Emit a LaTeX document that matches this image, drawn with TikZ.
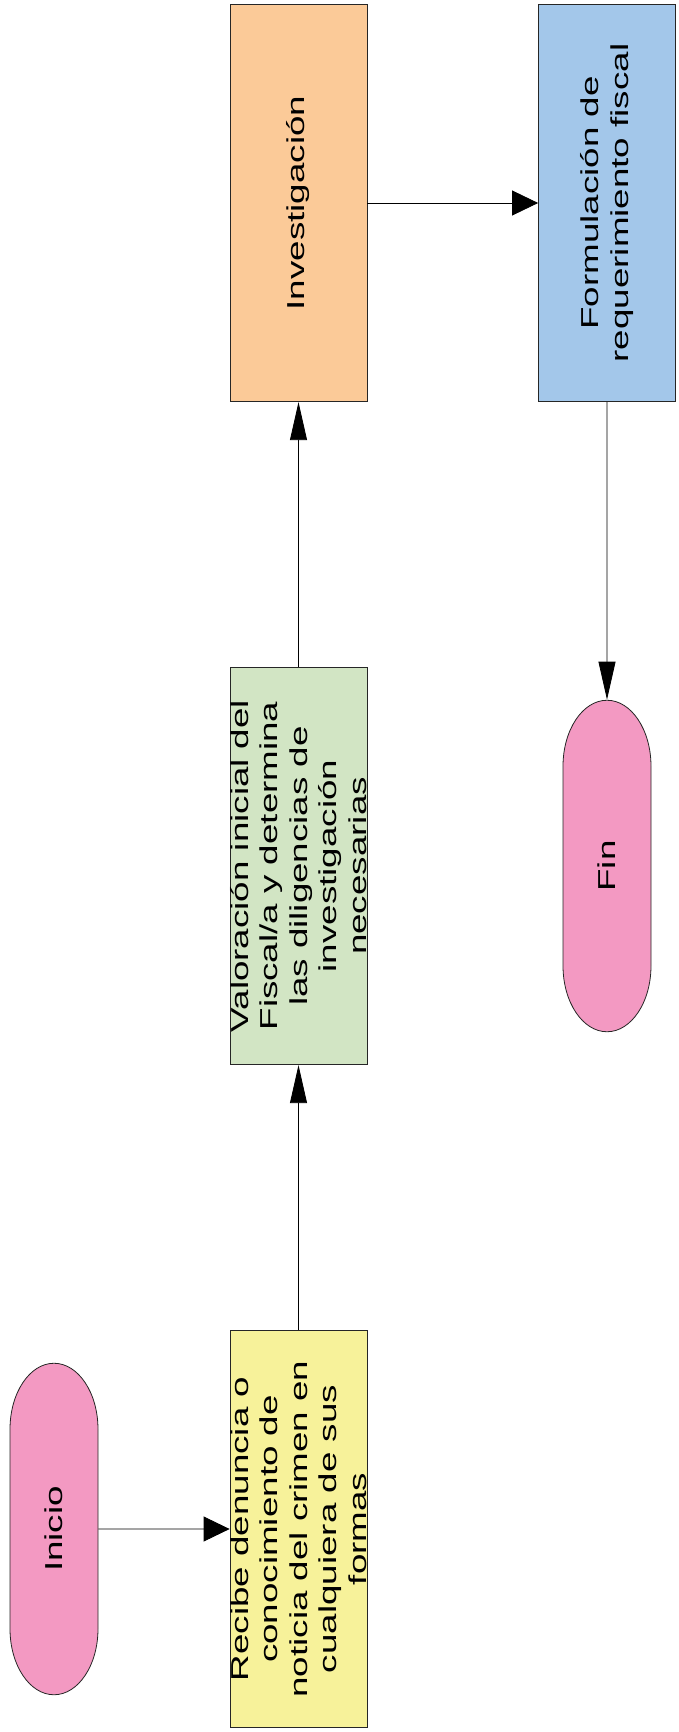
\documentclass[tikz,border=0pt]{standalone}
\usepackage{fontspec}
\setmainfont{Liberation Sans}
\usetikzlibrary{arrows.meta,shapes.misc}
\definecolor{rosa}{RGB}{243,153,194}
\definecolor{amarillo}{RGB}{247,242,154}
\definecolor{verde}{RGB}{210,229,196}
\definecolor{naranja}{RGB}{251,202,152}
\definecolor{azul}{RGB}{163,199,234}
\tikzset{
  flujo/.style={rotate=90, xscale=1.5, inner sep=0pt, align=center,
    font=\fontsize{24.5}{29.5}\selectfont, draw=black!85, line width=0.8pt},
  caja/.style={flujo, rectangle, minimum width=264.7pt, minimum height=137pt},
  terminal/.style={flujo, rounded rectangle, minimum width=221pt, minimum height=88pt, fill=rosa},
  hflecha/.style={-{Triangle[length=26pt,width=25pt]}, line width=0.8pt},
  vflecha/.style={-{Triangle[length=38pt,width=17pt]}, line width=0.8pt}
}
\begin{document}
\begin{tikzpicture}[x=1pt,y=-1pt]
\fill[white] (0,0) rectangle (678,1732);
\useasboundingbox (0,0) rectangle (678,1732);
\node[terminal] (inicio) at (54,1529) {Inicio};
\node[caja, fill=amarillo] (recibe) at (298.5,1529) {Recibe denuncia o\\conocimiento de\\noticia del crimen en\\cualquiera de sus\\formas};
\node[caja, fill=verde] (valoracion) at (298.5,866) {Valoración inicial del\\Fiscal/a y determina\\las diligencias de\\investigación\\necesarias};
\node[caja, fill=naranja] (investigacion) at (298.5,203) {Investigación};
\node[caja, fill=azul] (formulacion) at (607,203) {Formulación de\\requerimiento fiscal};
\node[terminal] (fin) at (607,866) {Fin};
\draw[hflecha] (inicio) -- (recibe);
\draw[vflecha] (recibe) -- (valoracion);
\draw[vflecha] (valoracion) -- (investigacion);
\draw[hflecha] (investigacion) -- (formulacion);
\draw[vflecha] (formulacion) -- (fin);
\end{tikzpicture}
\end{document}
